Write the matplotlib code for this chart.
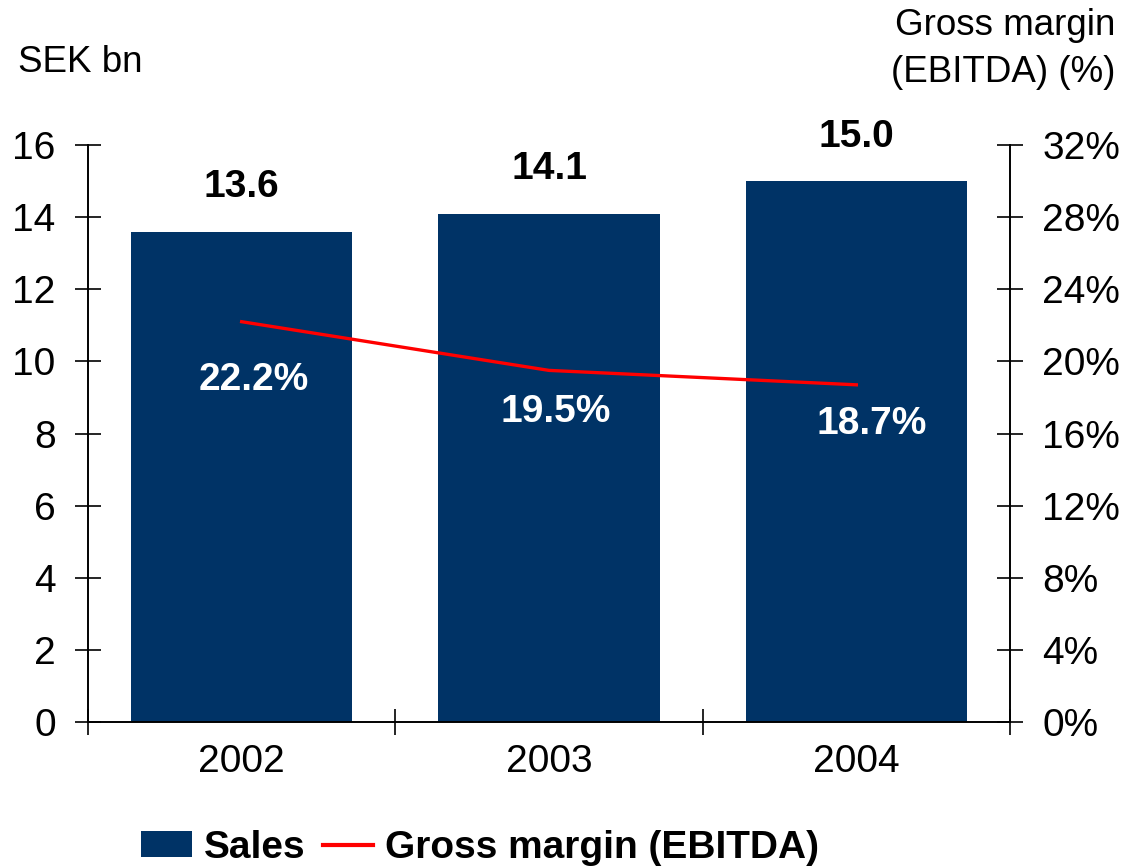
import matplotlib
matplotlib.use("Agg")
import matplotlib.pyplot as plt
from matplotlib.patches import Patch
from matplotlib.lines import Line2D
from matplotlib.ticker import FixedLocator, FuncFormatter

plt.rcParams['font.family'] = ['Liberation Sans', 'DejaVu Sans']

years = ["2002", "2003", "2004"]
sales = [13.6, 14.1, 15.0]          # SEK bn
gross_margin = [22.2, 19.5, 18.7]   # %

BAR_COLOR = "#003366"
LINE_COLOR = "#ff0000"
FS = 28

fig = plt.figure(figsize=(11.25, 8.67), dpi=100)
ax = fig.add_axes([88 / 1125, 145 / 867, 922 / 1125, 577 / 867])
ax2 = ax.twinx()

x = list(range(len(years)))
ax.bar(x, sales, width=0.72, color=BAR_COLOR, zorder=2)
ax.set_xlim(-0.5, len(years) - 0.5)
ax.set_ylim(0, 16)
ax.set_yticks(range(0, 17, 2))

ax2.plot(x, gross_margin, color=LINE_COLOR, lw=2.4, zorder=3)
ax2.set_ylim(0, 32)
ax2.set_yticks(range(0, 33, 4))
ax2.yaxis.set_major_formatter(FuncFormatter(lambda v, p: f"{v:.0f}%"))

# category labels without ticks, boundary ticks crossing the axis
ax.set_xticks(x)
ax.set_xticklabels(years)
ax.xaxis.set_minor_locator(FixedLocator([i - 0.5 for i in range(len(years) + 1)]))
ax.tick_params(axis="x", which="major", length=0, pad=16, labelsize=FS)
ax.tick_params(axis="x", which="minor", direction="inout", length=18.5, width=1.2)
ax.tick_params(axis="y", direction="inout", length=18.5, width=1.2, pad=14, labelsize=FS)
ax2.tick_params(axis="y", direction="inout", length=18.5, width=1.2, pad=14, labelsize=FS)

for a in (ax, ax2):
    a.spines["top"].set_visible(False)
    for s in ("left", "right", "bottom"):
        a.spines[s].set_linewidth(1.2)

ax.set_zorder(ax2.get_zorder() - 1)
ax2.patch.set_visible(False)

# value labels above the bars
for xi, v in zip(x, sales):
    ax.annotate(f"{v:.1f}", (xi, v), xytext=(0, 32), textcoords="offset points",
                ha="center", va="center", fontsize=FS, fontweight="bold", color="black")

# margin labels below the line
margin_offsets = [(9, -42), (5, -30), (11, -28)]
for xi, v, off in zip(x, gross_margin, margin_offsets):
    ax2.annotate(f"{v:.1f}%", (xi, v), xytext=off, textcoords="offset points",
                 ha="center", va="center", fontsize=FS, fontweight="bold", color="white",
                 zorder=4)

fig.text(18 / 1125, 1 - 62 / 867, "SEK bn", ha="left", va="center", fontsize=26.5)
fig.text(1115 / 1125, 1 - 49 / 867, "Gross margin\n(EBITDA) (%)", ha="right", va="center",
         fontsize=26.5, linespacing=1.45)

handles = [Patch(facecolor=BAR_COLOR, edgecolor="none"),
           Line2D([0], [0], color=LINE_COLOR, lw=3)]
fig.legend(handles, ["Sales", "Gross margin (EBITDA)"], loc="center",
           bbox_to_anchor=(480 / 1125, 1 - 848 / 867), ncol=2, frameon=False,
           prop={"size": FS, "weight": "bold"}, handlelength=1.3, handleheight=0.65,
           handletextpad=0.3, columnspacing=0.45, borderpad=0)

fig.savefig("out.png", dpi=100)
